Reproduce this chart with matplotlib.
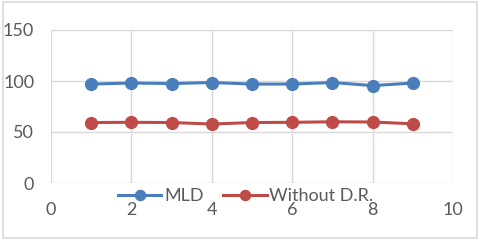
import matplotlib
matplotlib.use("Agg")
import matplotlib.pyplot as plt
from matplotlib.patches import Rectangle

x = [1, 2, 3, 4, 5, 6, 7, 8, 9]
mld = [97, 98, 97.5, 98.5, 97, 97, 98.5, 95.5, 98]
without_dr = [59.3, 59.5, 59.3, 57.8, 59.3, 59.5, 60, 59.8, 58]
xticks = [0, 2, 4, 6, 8, 10]
yticks = [0, 50, 100, 150]

plt.rcParams['font.family'] = ['Lato', 'DejaVu Sans']
fig = plt.figure(figsize=(4.8, 2.4), dpi=100)
ax = fig.add_axes([0.106, 0.2375, 0.838, 0.6375])

blue = '#4a7ebb'
red = '#be4b48'
ax.plot(x, mld, color=blue, lw=2.2, marker='o', ms=8.5, label='MLD', zorder=3)
ax.plot(x, without_dr, color=red, lw=2.2, marker='o', ms=8.5, label='Without D.R.', zorder=3)

ax.set_xlim(0, 10)
ax.set_ylim(0, 150)
ax.set_xticks(xticks)
ax.set_yticks(yticks)
ax.grid(True, color='#d9d9d9', lw=1)
for s in ax.spines.values():
    s.set_visible(False)
ax.tick_params(length=0, labelsize=13, labelcolor='#595959')
ax.tick_params(axis='y', pad=12)
ax.tick_params(axis='x', pad=14)

fig.legend(loc='center', bbox_to_anchor=(0.512, 0.183), ncol=2, frameon=False,
           fontsize=13, labelcolor='#595959', handlelength=2.4, markerscale=0.85,
           handletextpad=0.15, columnspacing=1.1)

fig.patches.append(Rectangle((0.006, 0.01), 0.988, 0.98, transform=fig.transFigure,
                             fill=False, edgecolor='#d9d9d9', lw=1.2))
fig.savefig('out.png', dpi=100)
